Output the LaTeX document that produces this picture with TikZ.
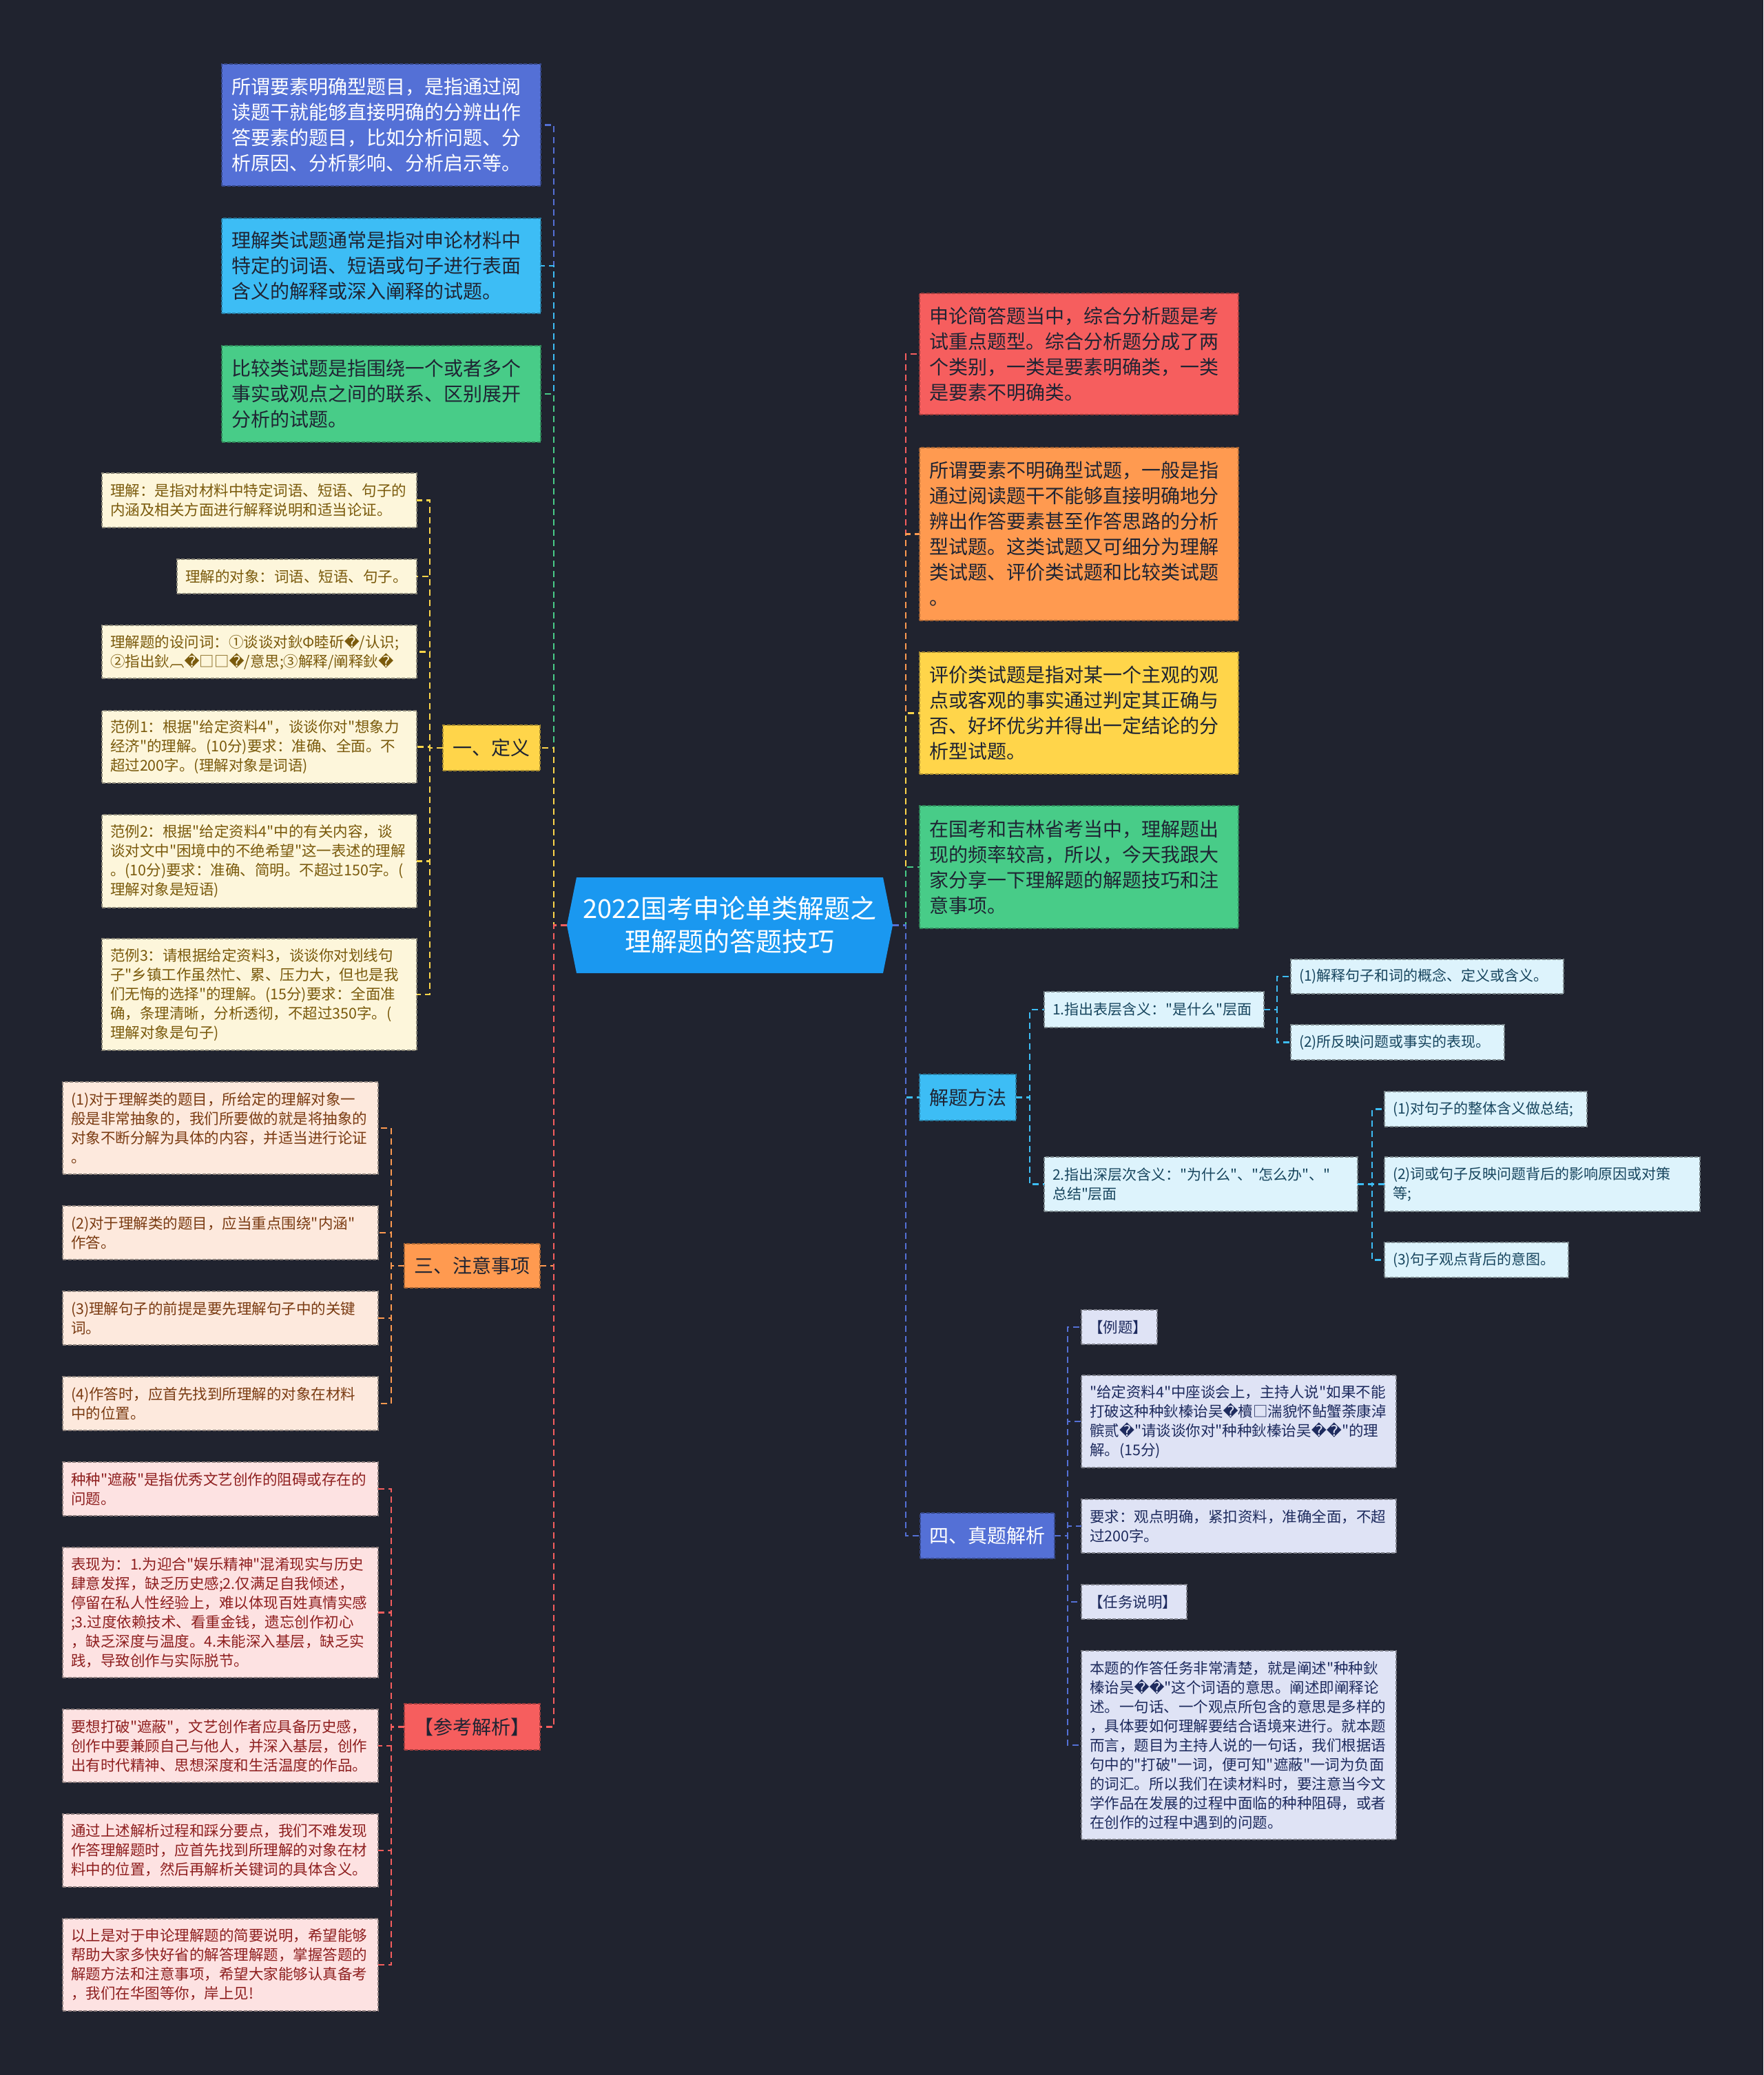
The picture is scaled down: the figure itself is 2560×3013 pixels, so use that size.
\documentclass[tikz,border=0pt]{standalone}
\usepackage{fontspec}
\setmainfont{Noto Sans CJK SC}[Ligatures=TeXOff]
\newfontfamily\dvf{DejaVu Sans}
\newcommand{\rpc}{{\dvf\symbol{"FFFD}}}
\newcommand{\fBig}{\fontsize{28}{37}\selectfont}
\newcommand{\fLeaf}{\fontsize{21.5}{28}\selectfont}
\newcommand{\fLeafR}{\fontsize{21}{28}\selectfont}
\newcommand{\fMid}{\fontsize{28}{34}\selectfont}
\newcommand{\fRoot}{\fontsize{38}{48}\selectfont}
\definecolor{bg}{HTML}{20232F}
\definecolor{cBlue}{HTML}{5470D6}
\definecolor{cCyan}{HTML}{3DBDF5}
\definecolor{cGreen}{HTML}{48CC88}
\definecolor{cYel}{HTML}{FFD54A}
\definecolor{cOra}{HTML}{FF9A50}
\definecolor{cRed}{HTML}{F65E5E}
\definecolor{cRoot}{HTML}{1A98F0}
\definecolor{txDark}{HTML}{1F2433}
\definecolor{fD}{HTML}{FDF6DB}
\definecolor{tD}{HTML}{7A5A0C}
\definecolor{fZ}{HTML}{FDE9DD}
\definecolor{tZ}{HTML}{7A3B12}
\definecolor{fC}{HTML}{FDE2E2}
\definecolor{tC}{HTML}{8E1F1F}
\definecolor{fJ}{HTML}{DDF3FC}
\definecolor{tJ}{HTML}{17455E}
\definecolor{fT}{HTML}{DFE3F5}
\definecolor{tT}{HTML}{1E2B5E}
\begin{document}
\begin{tikzpicture}[x=1pt,y=-1pt,
  bx/.style={rectangle, dash pattern=on 5pt off 2.5pt, line width=1.3pt, inner ysep=0pt, outer sep=0pt, anchor=north west, align=left},
  big/.style={bx, fill=#1, draw=#1!65!black, inner xsep=14pt, font=\fBig, text=txDark},
  mid/.style={bx, fill=#1, draw=#1!65!black, inner xsep=0pt, align=center, font=\fMid, text=txDark},
  lfD/.style={bx, fill=fD, draw=fD!55!black, text=tD, inner xsep=12pt, font=\fLeaf},
  lfZ/.style={bx, fill=fZ, draw=fZ!55!black, text=tZ, inner xsep=12pt, font=\fLeaf},
  lfC/.style={bx, fill=fC, draw=fC!55!black, text=tC, inner xsep=12pt, font=\fLeaf},
  lfJ/.style={bx, fill=fJ, draw=fJ!55!black, text=tJ, inner xsep=12pt, font=\fLeafR},
  lfT/.style={bx, fill=fT, draw=fT!55!black, text=tT, inner xsep=12pt, font=\fLeaf},
  cn/.style={draw=#1, line width=2.2pt, dash pattern=on 9pt off 6pt}]
\fill[bg] (0,0) rectangle (2560,3013);
% root
\fill[cRoot] (823,1343.5) -- (837,1274) -- (1282,1274) -- (1296,1343.5) -- (1282,1413) -- (837,1413) -- cycle;
\node[minimum width=473pt, minimum height=139pt, inner sep=0pt, outer sep=0pt, text=white, align=center, font=\fRoot] (root) at (1059.5,1343.5) {2022国考申论单类解题之\\理解题的答题技巧};
% left first level
\node[big=cBlue, text=white, text width=435pt, minimum height=177pt] (A1) at (322,93) {所谓要素明确型题目，是指通过阅\\读题干就能够直接明确的分辨出作\\答要素的题目，比如分析问题、分\\析原因、分析影响、分析启示等。};
\node[big=cCyan, text width=435pt, minimum height=138pt] (A2) at (322,317) {理解类试题通常是指对申论材料中\\特定的词语、短语或句子进行表面\\含义的解释或深入阐释的试题。};
\node[big=cGreen, text width=435pt, minimum height=140pt] (A3) at (322,502) {比较类试题是指围绕一个或者多个\\事实或观点之间的联系、区别展开\\分析的试题。};
\node[mid=cYel, text width=141pt, minimum height=66pt] (B1) at (643,1053) {一、定义};
\node[mid=cOra, text width=197pt, minimum height=64pt] (B2) at (587,1806) {三、注意事项};
\node[mid=cRed, text width=197pt, minimum height=67pt] (B3) at (587,2474) {【参考解析】};
% right first level
\node[big=cRed, text width=435pt, minimum height=176pt] (R1) at (1335,426) {申论简答题当中，综合分析题是考\\试重点题型。综合分析题分成了两\\个类别，一类是要素明确类，一类\\是要素不明确类。};
\node[big=cOra, text width=435pt, minimum height=251pt] (R2) at (1335,650) {所谓要素不明确型试题，一般是指\\通过阅读题干不能够直接明确地分\\辨出作答要素甚至作答思路的分析\\型试题。这类试题又可细分为理解\\类试题、评价类试题和比较类试题\\。};
\node[big=cYel, text width=435pt, minimum height=177pt] (R3) at (1335,947) {评价类试题是指对某一个主观的观\\点或客观的事实通过判定其正确与\\否、好坏优劣并得出一定结论的分\\析型试题。};
\node[big=cGreen, text width=435pt, minimum height=178pt] (R4) at (1335,1170) {在国考和吉林省考当中，理解题出\\现的频率较高，所以，今天我跟大\\家分享一下理解题的解题技巧和注\\意事项。};
\node[mid=cCyan, text width=140pt, minimum height=67pt] (R5) at (1335,1560) {解题方法};
\node[mid=cBlue, text=white, text width=195pt, minimum height=66pt] (R6) at (1336,2197) {四、真题解析};
% definition leaves
\node[lfD, text width=433pt, minimum height=79pt] (d1) at (148,687) {理解：是指对材料中特定词语、短语、句子的\\内涵及相关方面进行解释说明和适当论证。};
\node[lfD, text width=324pt, minimum height=50pt] (d2) at (257,812) {理解的对象：词语、短语、句子。};
\node[lfD, text width=433pt, minimum height=77pt] (d3) at (148,908) {理解题的设问词：①谈谈对鈥Φ睦斫\rpc/认识;\\②指出鈥︹\rpc□□\rpc/意思;③解释/阐释鈥\rpc};
\node[lfD, text width=433pt, minimum height=105pt] (d4) at (148,1032) {范例1：根据"给定资料4"，谈谈你对"想象力\\经济"的理解。(10分)要求：准确、全面。不\\超过200字。(理解对象是词语)};
\node[lfD, text width=433pt, minimum height=135pt] (d5) at (148,1183) {范例2：根据"给定资料4"中的有关内容，谈\\谈对文中"困境中的不绝希望"这一表述的理解\\。(10分)要求：准确、简明。不超过150字。(\\理解对象是短语)};
\node[lfD, text width=433pt, minimum height=162pt] (d6) at (148,1363) {范例3：请根据给定资料3，谈谈你对划线句\\子"乡镇工作虽然忙、累、压力大，但也是我\\们无悔的选择"的理解。(15分)要求：全面准\\确，条理清晰，分析透彻，不超过350字。(\\理解对象是句子)};
% notice leaves
\node[lfZ, text width=434pt, minimum height=134pt] (z1) at (91,1571) {(1)对于理解类的题目，所给定的理解对象一\\般是非常抽象的，我们所要做的就是将抽象的\\对象不断分解为具体的内容，并适当进行论证\\。};
\node[lfZ, text width=434pt, minimum height=78pt] (z2) at (91,1751) {(2)对于理解类的题目，应当重点围绕"内涵"\\作答。};
\node[lfZ, text width=434pt, minimum height=78pt] (z3) at (91,1875) {(3)理解句子的前提是要先理解句子中的关键\\词。};
\node[lfZ, text width=434pt, minimum height=78pt] (z4) at (91,1999) {(4)作答时，应首先找到所理解的对象在材料\\中的位置。};
% reference analysis leaves
\node[lfC, text width=434pt, minimum height=78pt] (c1) at (91,2123) {种种"遮蔽"是指优秀文艺创作的阻碍或存在的\\问题。};
\node[lfC, text width=434pt, minimum height=189pt] (c2) at (91,2247) {表现为：1.为迎合"娱乐精神"混淆现实与历史\\肆意发挥，缺乏历史感;2.仅满足自我倾述，\\停留在私人性经验上，难以体现百姓真情实感\\;3.过度依赖技术、看重金钱，遗忘创作初心\\，缺乏深度与温度。4.未能深入基层，缺乏实\\践，导致创作与实际脱节。};
\node[lfC, text width=434pt, minimum height=106pt] (c3) at (91,2482) {要想打破"遮蔽"，文艺创作者应具备历史感，\\创作中要兼顾自己与他人，并深入基层，创作\\出有时代精神、思想深度和生活温度的作品。};
\node[lfC, text width=434pt, minimum height=106pt] (c4) at (91,2634) {通过上述解析过程和踩分要点，我们不难发现\\作答理解题时，应首先找到所理解的对象在材\\料中的位置，然后再解析关键词的具体含义。};
\node[lfC, text width=434pt, minimum height=134pt] (c5) at (91,2786) {以上是对于申论理解题的简要说明，希望能够\\帮助大家多快好省的解答理解题，掌握答题的\\解题方法和注意事项，希望大家能够认真备考\\，我们在华图等你，岸上见!};
% method leaves
\node[lfJ, text width=295pt, minimum height=52pt] (j1) at (1516,1440) {1.指出表层含义："是什么"层面};
\node[lfJ, text width=372pt, minimum height=50pt] (j11) at (1874,1393) {(1)解释句子和词的概念、定义或含义。};
\node[lfJ, text width=286pt, minimum height=51pt] (j12) at (1874,1488) {(2)所反映问题或事实的表现。};
\node[lfJ, text width=431pt, minimum height=79pt] (j2) at (1516,1680) {2.指出深层次含义："为什么"、"怎么办"、"\\总结"层面};
\node[lfJ, text width=270pt, minimum height=51pt] (j21) at (2010,1585) {(1)对句子的整体含义做总结;};
\node[lfJ, text width=434pt, minimum height=79pt] (j22) at (2010,1680) {(2)词或句子反映问题背后的影响原因或对策\\等;};
\node[lfJ, text width=243pt, minimum height=51pt] (j23) at (2010,1804) {(3)句子观点背后的意图。};
% real exam leaves
\node[lfT, inner xsep=10pt, text width=90pt, minimum height=50pt] (t1) at (1570,1902) {【例题】};
\node[lfT, text width=433pt, minimum height=134pt] (t2) at (1570,1997) {"给定资料4"中座谈会上，主持人说"如果不能\\打破这种种鈥榛诒吴\rpc 櫝□湍貌怀鲇蟹荼康淖\\髌贰\rpc"请谈谈你对"种种鈥榛诒吴\rpc\rpc"的理\\解。(15分)};
\node[lfT, text width=433pt, minimum height=78pt] (t3) at (1570,2177) {要求：观点明确，紧扣资料，准确全面，不超\\过200字。};
\node[lfT, inner xsep=10pt, text width=133pt, minimum height=50pt] (t4) at (1570,2301) {【任务说明】};
\node[lfT, text width=433pt, minimum height=274pt] (t5) at (1570,2397) {本题的作答任务非常清楚，就是阐述"种种鈥\\榛诒吴\rpc\rpc"这个词语的意思。阐述即阐释论\\述。一句话、一个观点所包含的意思是多样的\\，具体要如何理解要结合语境来进行。就本题\\而言，题目为主持人说的一句话，我们根据语\\句中的"打破"一词，便可知"遮蔽"一词为负面\\的词汇。所以我们在读材料时，要注意当今文\\学作品在发展的过程中面临的种种阻碍，或者\\在创作的过程中遇到的问题。};
% trunk coordinates
\coordinate (TL) at (804,0);
\coordinate (TR) at (1315,0);
\coordinate (XD) at (624,0);
\coordinate (XZ) at (568,0);
\coordinate (XJ) at (1495,0);
\coordinate (XJ1) at (1854,0);
\coordinate (XJ2) at (1992,0);
\coordinate (XT) at (1550,0);
% root connectors left
\draw[cn=cBlue] (root.west) -- (TL |- root.west) |- (A1.east);
\draw[cn=cCyan] (root.west) -- (TL |- root.west) |- (A2.east);
\draw[cn=cGreen] (root.west) -- (TL |- root.west) |- (A3.east);
\draw[cn=cYel] (root.west) -- (TL |- root.west) |- (B1.east);
\draw[cn=cOra] (root.west) -- (TL |- root.west) |- (B2.east);
\draw[cn=cRed] (root.west) -- (TL |- root.west) |- (B3.east);
% root connectors right
\draw[cn=cRed] (root.east) -- (TR |- root.east) |- (R1.west);
\draw[cn=cOra] (root.east) -- (TR |- root.east) |- (R2.west);
\draw[cn=cYel] (root.east) -- (TR |- root.east) |- (R3.west);
\draw[cn=cGreen] (root.east) -- (TR |- root.east) |- (R4.west);
\draw[cn=cCyan] (root.east) -- (TR |- root.east) |- (R5.west);
\draw[cn=cBlue] (root.east) -- (TR |- root.east) |- (R6.west);
% sub connectors
\foreach \n in {d1,d2,d3,d4,d5,d6} \draw[cn=cYel] (B1.west) -- (XD |- B1.west) |- (\n.east);
\foreach \n in {z1,z2,z3,z4} \draw[cn=cOra] (B2.west) -- (XZ |- B2.west) |- (\n.east);
\foreach \n in {c1,c2,c3,c4,c5} \draw[cn=cRed] (B3.west) -- (XZ |- B3.west) |- (\n.east);
\foreach \n in {j1,j2} \draw[cn=cCyan] (R5.east) -- (XJ |- R5.east) |- (\n.west);
\foreach \n in {j11,j12} \draw[cn=cCyan] (j1.east) -- (XJ1 |- j1.east) |- (\n.west);
\foreach \n in {j21,j22,j23} \draw[cn=cCyan] (j2.east) -- (XJ2 |- j2.east) |- (\n.west);
\foreach \n in {t1,t2,t3,t4,t5} \draw[cn=cBlue] (R6.east) -- (XT |- R6.east) |- (\n.west);
\end{tikzpicture}
\end{document}
